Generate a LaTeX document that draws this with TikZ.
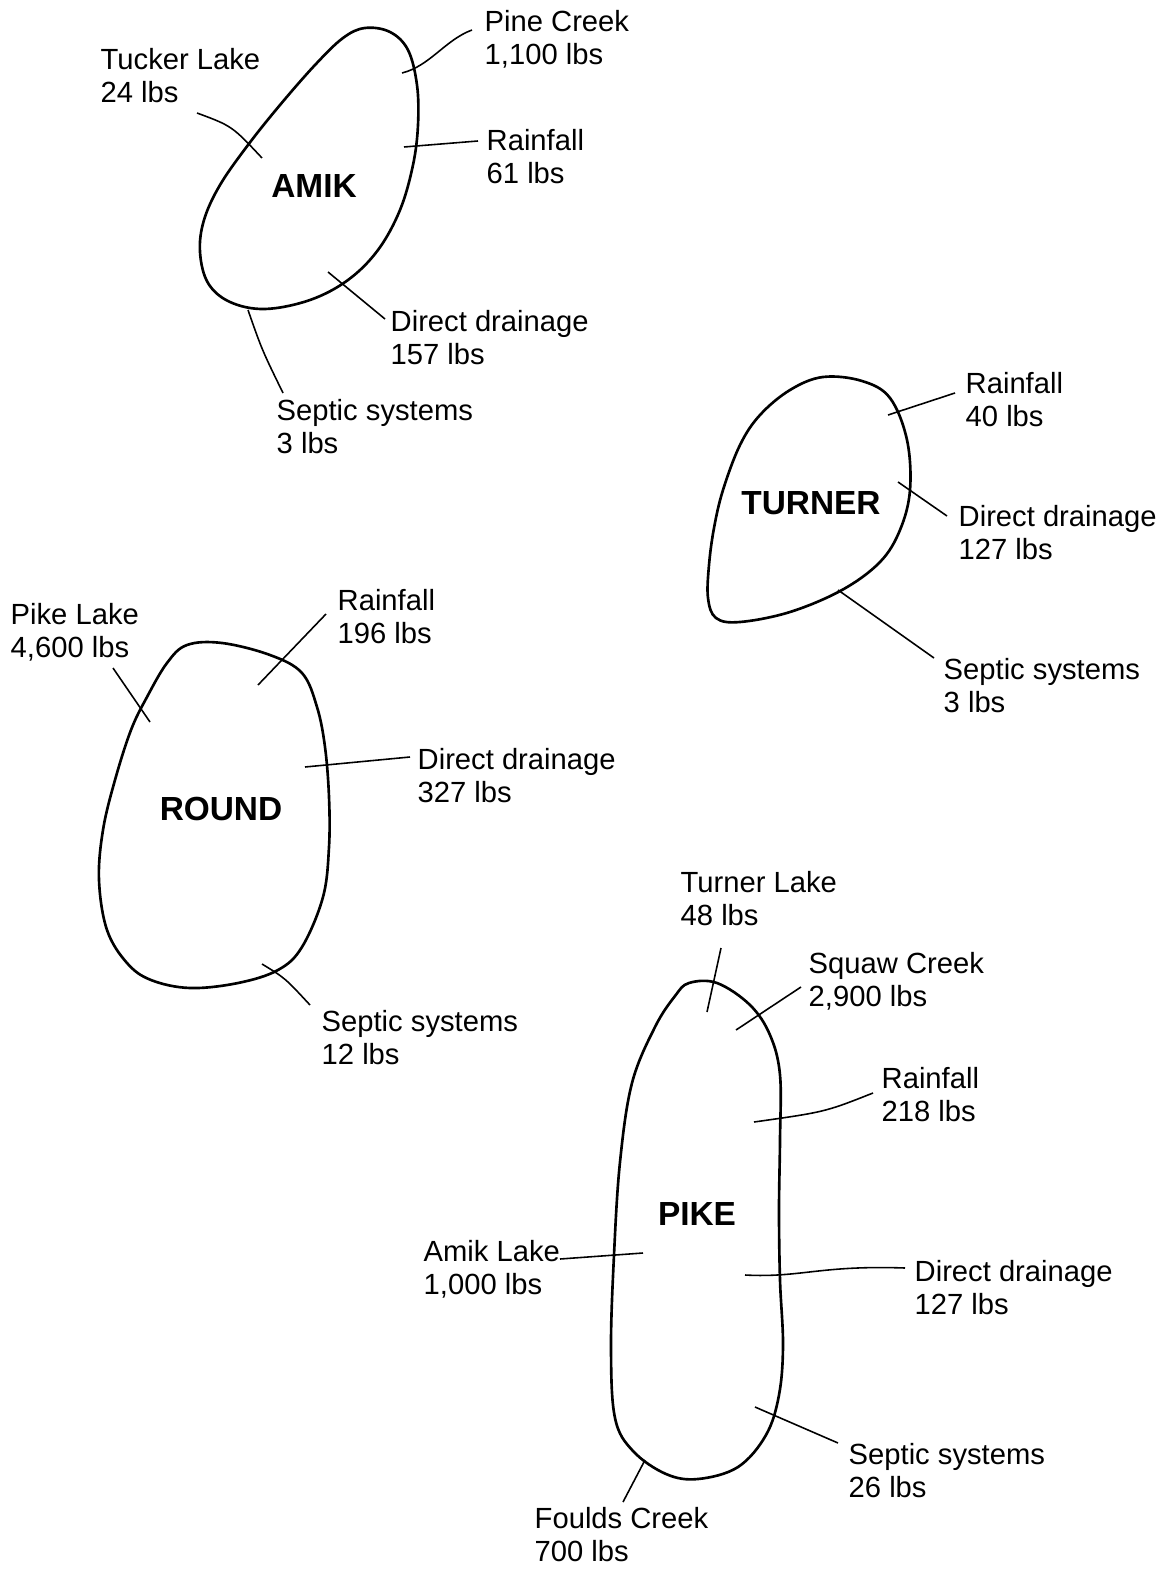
\documentclass[tikz,border=0pt]{standalone}
\usepackage{fontspec}
\setmainfont{Liberation Sans}
\usetikzlibrary{positioning, calc}

\begin{document}
\begin{tikzpicture}[
            x=0.01cm, y=-0.01cm,
            lake/.style={line width=0.75pt, line join=round},
            feed/.style={line width=0.45pt},
            src/.style={anchor=north west, inner sep=0pt, align=left, font=\fontsize{8.3}{9.4}\selectfont},
            lakename/.style={inner sep=0pt, font=\fontsize{9.5}{11}\selectfont\bfseries},
        ]
            \useasboundingbox (0,0) rectangle (1166,1570);

            \draw[lake] plot[smooth cycle, tension=0.6] coordinates {
                (365,28) (390,32) (408,50) (417,85) (418,125) (413,165) (400,210)
                (378,250) (348,280) (310,300) (265,309) (230,302) (208,283)
                (200,252) (204,220) (220,185) (248,145) (280,105) (315,65) (343,38)};
            \node[lakename] (amik) at (314,186) {AMIK};
            \node[src] (tucker) at (100,48) {Tucker Lake\\24 lbs};
            \node[src] (pine) at (484,10) {Pine Creek\\1,100 lbs};
            \node[src] (amikrain) at (486,129) {Rainfall\\61 lbs};
            \node[src] (amikdd) at (390,310) {Direct drainage\\157 lbs};
            \node[src] (amiksep) at (276,399) {Septic systems\\3 lbs};
            \coordinate (amik-tucker) at (262,158);
            \coordinate (amik-pine) at (402,73);
            \coordinate (amik-rain) at (404,147);
            \coordinate (amik-dd) at (328,272);
            \coordinate (amik-sep) at (248,310);
            \draw[feed] ($(tucker.north west)+(97,65)$) .. controls (232,126) .. (amik-tucker);
            \draw[feed] ($(pine.north west)+(-12,20)$) .. controls (445,40) and (430,66) .. (amik-pine);
            \draw[feed] ($(amikrain.north west)+(-8,12)$) -- (amik-rain);
            \draw[feed] ($(amikdd.north west)+(-5,9)$) -- (amik-dd);
            \draw[feed] ($(amiksep.north west)+(7,-6)$) .. controls (262,350) .. (amik-sep);

            \draw[lake] plot[smooth cycle, tension=0.6] coordinates {
                (823,377) (862,381) (890,398) (907,440) (910,490) (900,530)
                (880,562) (842,590) (790,612) (740,622) (716,618) (708,598)
                (709,565) (714,528) (723,490) (740,445) (760,415) (790,390)};
            \node[lakename] (turner) at (811,503) {TURNER};
            \node[src] (turnrain) at (965,372) {Rainfall\\40 lbs};
            \node[src] (turndd) at (958,505) {Direct drainage\\127 lbs};
            \node[src] (turnsep) at (943,658) {Septic systems\\3 lbs};
            \coordinate (turn-rain) at (888,415);
            \coordinate (turn-dd) at (898,482);
            \coordinate (turn-sep) at (838,590);
            \draw[feed] ($(turnrain.north west)+(-10,21)$) -- (turn-rain);
            \draw[feed] ($(turndd.north west)+(-11,11)$) -- (turn-dd);
            \draw[feed] ($(turnsep.north west)+(-9,0)$) -- (turn-sep);

            \draw[lake] plot[smooth cycle, tension=0.6] coordinates {
                (187,645) (222,643) (270,655) (302,673) (317,707) (325,747)
                (329,797) (329,847) (323,897) (302,947) (278,970) (238,983)
                (190,988) (151,980) (127,963) (107,930) (99,880) (103,830)
                (115,780) (131,730) (147,697) (167,663)};
            \node[lakename] (round) at (221,809) {ROUND};
            \node[src] (pikelake) at (10,603) {Pike Lake\\4,600 lbs};
            \node[src] (roundrain) at (337,589) {Rainfall\\196 lbs};
            \node[src] (rounddd) at (417,748) {Direct drainage\\327 lbs};
            \node[src] (roundsep) at (321,1010) {Septic systems\\12 lbs};
            \coordinate (round-pike) at (150,722);
            \coordinate (round-rain) at (258,685);
            \coordinate (round-dd) at (305,767);
            \coordinate (round-sep) at (262,964);
            \draw[feed] ($(pikelake.north west)+(103,65)$) -- (round-pike);
            \draw[feed] ($(roundrain.north west)+(-11,25)$) -- (round-rain);
            \draw[feed] ($(rounddd.north west)+(-7,9)$) -- (round-dd);
            \draw[feed] ($(roundsep.north west)+(-11,-5)$) .. controls (285,978) .. (round-sep);

            \draw[lake] plot[smooth cycle, tension=0.6] coordinates {
                (689,983) (717,983) (750,1005) (770,1035) (780,1075) (780,1140)
                (779,1210) (780,1280) (783,1345) (779,1395) (766,1435) (738,1467)
                (698,1479) (666,1474) (633,1451) (615,1418) (611,1348) (614,1255)
                (620,1162) (632,1083) (655,1027) (675,996)};
            \node[lakename] (pike) at (697,1214) {PIKE};
            \node[src] (turnerlake) at (680,871) {Turner Lake\\48 lbs};
            \node[src] (squaw) at (808,952) {Squaw Creek\\2,900 lbs};
            \node[src] (pikerain) at (881,1067) {Rainfall\\218 lbs};
            \node[src] (amiklake) at (423,1240) {Amik Lake\\1,000 lbs};
            \node[src] (pikedd) at (914,1260) {Direct drainage\\127 lbs};
            \node[src] (pikesep) at (848,1443) {Septic systems\\26 lbs};
            \node[src] (foulds) at (534,1507) {Foulds Creek\\700 lbs};
            \coordinate (pike-turner) at (707,1012);
            \coordinate (pike-squaw) at (736,1030);
            \coordinate (pike-rain) at (754,1122);
            \coordinate (pike-amik) at (643,1253);
            \coordinate (pike-dd) at (745,1275);
            \coordinate (pike-sep) at (755,1407);
            \coordinate (pike-foulds) at (645,1460);
            \draw[feed] ($(turnerlake.north west)+(41,77)$) -- (pike-turner);
            \draw[feed] ($(squaw.north west)+(-7,35)$) -- (pike-squaw);
            \draw[feed] ($(pikerain.north west)+(-8,26)$) .. controls (825,1112) .. (pike-rain);
            \draw[feed] ($(amiklake.north west)+(137,19)$) -- (pike-amik);
            \draw[feed] ($(pikedd.north west)+(-9,8)$) .. controls (820,1265) and (800,1278) .. (pike-dd);
            \draw[feed] ($(pikesep.north west)+(-10,0)$) -- (pike-sep);
            \draw[feed] ($(foulds.north west)+(89,-5)$) -- (pike-foulds);
        \end{tikzpicture}
\end{document}
